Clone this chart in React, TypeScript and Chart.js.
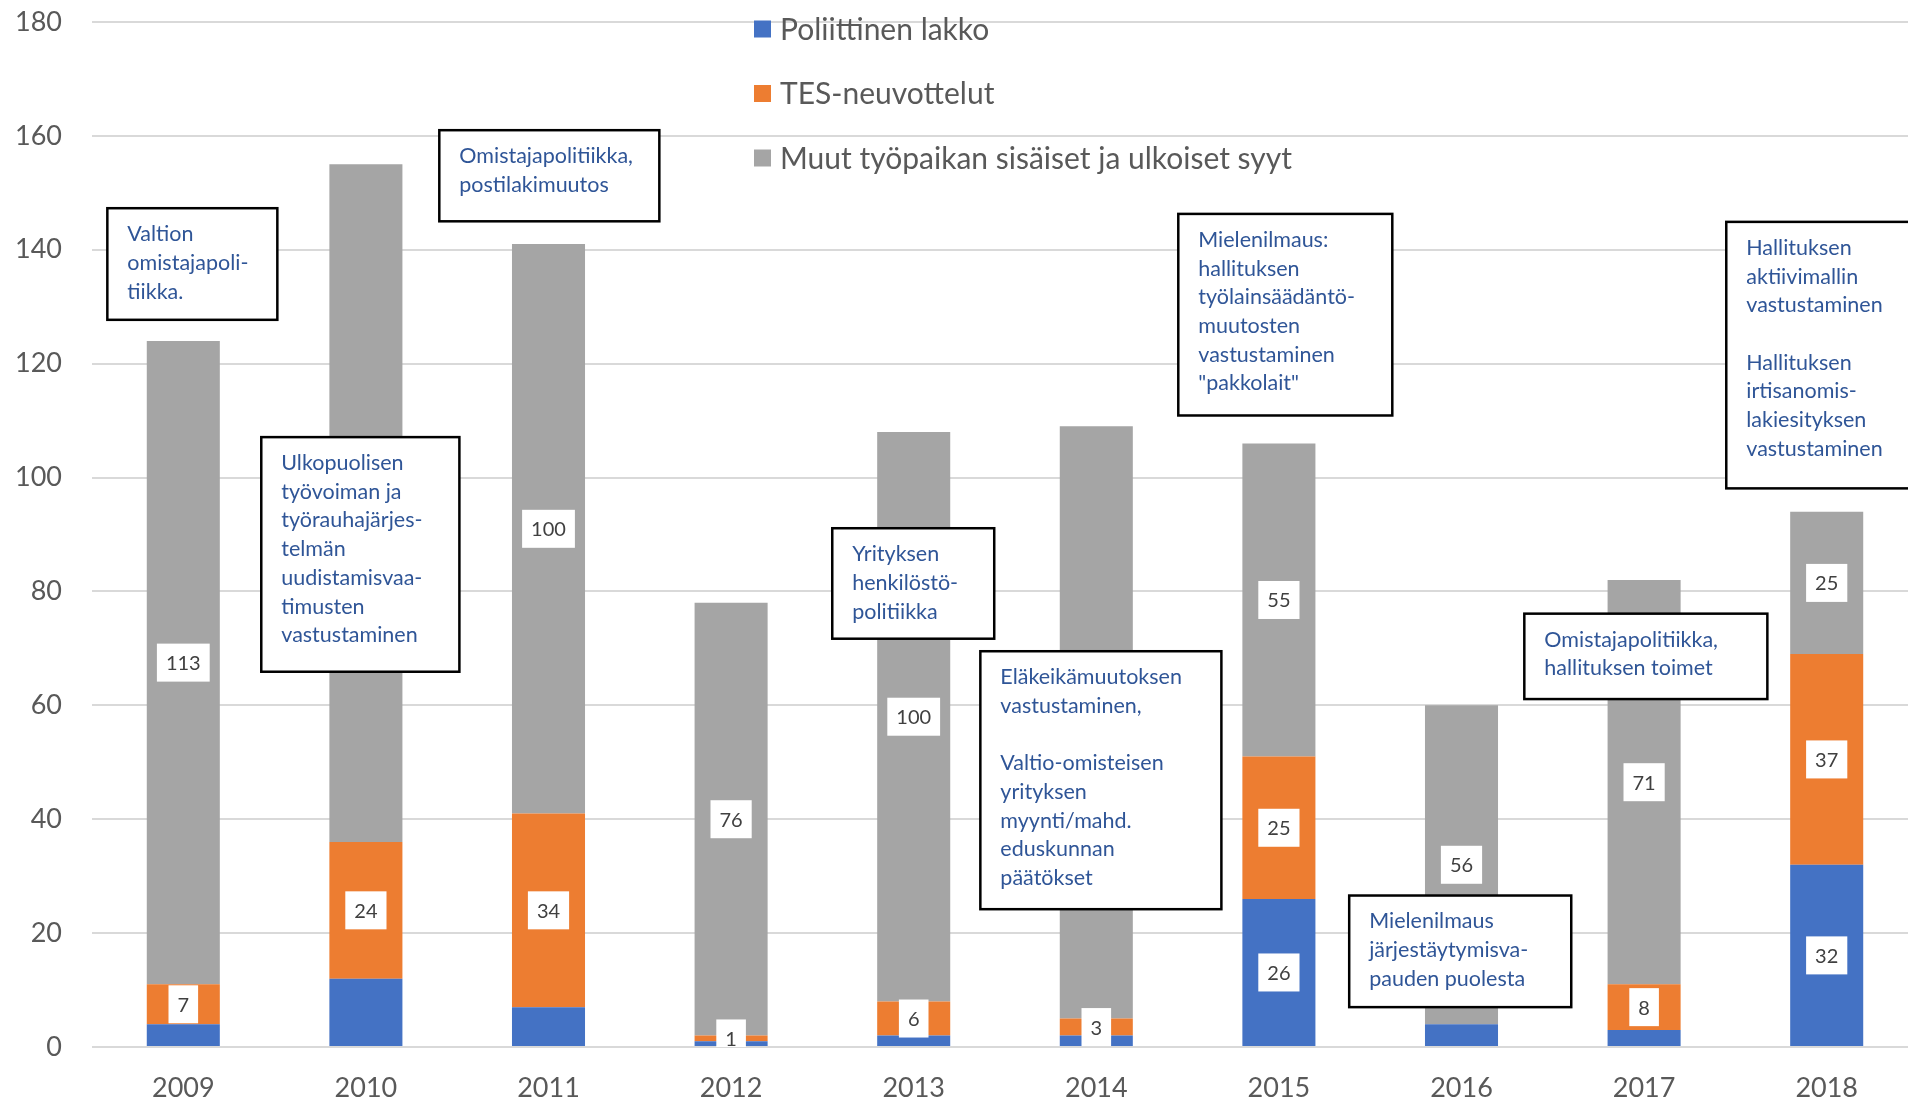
import React, { useEffect, useRef } from 'react';
import { Chart, registerables } from 'chart.js';

Chart.register(...registerables);

// ---- data ----
const years = ['2009', '2010', '2011', '2012', '2013', '2014', '2015', '2016', '2017', '2018'];
const seriesNames = ['Poliittinen lakko', 'TES-neuvottelut', 'Muut työpaikan sisäiset ja ulkoiset syyt'];
const poliittinenLakko = [4, 12, 7, 1, 2, 2, 26, 4, 3, 32];
const tesNeuvottelut = [7, 24, 34, 1, 6, 3, 25, 0, 8, 37];
const muutSyyt = [113, 119, 100, 76, 100, 104, 55, 56, 71, 25];
// which values carry a data label in the original
const labelPoliittinen = [false, false, false, false, false, false, true, false, false, true];
const labelTes = [true, true, true, true, true, true, true, false, true, true];
const labelMuut = [true, true, true, true, true, true, true, true, true, true];
const yMax = 180;
const yStep = 20;

// ---- annotations (text boxes), anchored in category / value units ----
const notes = [
  { lines: ['Valtion', 'omistajapoli-', 'tiikka.'], x1: -0.416, x2: 0.515, top: 147.3, bottom: 127.7 },
  { lines: ['Omistajapolitiikka,', 'postilakimuutos'], x1: 1.402, x2: 2.607, top: 161.0, bottom: 145.0 },
  {
    lines: ['Ulkopuolisen', 'työvoiman ja', 'työrauhajärjes-', 'telmän', 'uudistamisvaa-', 'timusten', 'vastustaminen'],
    x1: 0.427, x2: 1.512, top: 107.1, bottom: 65.9,
  },
  { lines: ['Yrityksen', 'henkilöstö-', 'politiikka'], x1: 3.554, x2: 4.441, top: 91.1, bottom: 71.7 },
  {
    lines: ['Eläkeikämuutoksen', 'vastustaminen,', '', 'Valtio-omisteisen', 'yrityksen', 'myynti/mahd.', 'eduskunnan', 'päätökset'],
    x1: 4.365, x2: 5.685, top: 69.5, bottom: 24.2,
  },
  {
    lines: ['Mielenilmaus:', 'hallituksen', 'työlainsäädäntö-', 'muutosten', 'vastustaminen', '"pakkolait"'],
    x1: 5.449, x2: 6.621, top: 146.3, bottom: 110.9,
  },
  { lines: ['Mielenilmaus', 'järjestäytymisva-', 'pauden puolesta'], x1: 6.385, x2: 7.601, top: 26.6, bottom: 7.0 },
  { lines: ['Omistajapolitiikka,', 'hallituksen toimet'], x1: 7.344, x2: 8.675, top: 76.1, bottom: 61.1 },
  {
    lines: ['Hallituksen', 'aktiivimallin', 'vastustaminen', '', 'Hallituksen', 'irtisanomis-', 'lakiesityksen', 'vastustaminen'],
    x1: 8.45, x2: 9.6, top: 144.9, bottom: 98.1,
  },
];

const COLORS = ['#4472C4', '#ED7D31', '#A5A5A5'];
const FONT = 'Lato, "Open Sans", sans-serif';
const CANVAS_W = 1918;
const CANVAS_H = 1110;

const overlayPlugin = {
  id: 'overlay',
  afterDatasetsDraw(chart: any) {
    const ctx = chart.ctx;
    const area = chart.chartArea;
    const labelFlags = [labelPoliittinen, labelTes, labelMuut];

    // data labels
    ctx.save();
    ctx.beginPath();
    ctx.rect(area.left, area.top, area.right - area.left, area.bottom - area.top);
    ctx.clip();
    ctx.font = `20px ${FONT}`;
    ctx.textAlign = 'center';
    ctx.textBaseline = 'middle';
    chart.data.datasets.forEach((ds: any, i: number) => {
      const meta = chart.getDatasetMeta(i);
      meta.data.forEach((el: any, j: number) => {
        const v = ds.data[j];
        if (!labelFlags[i][j] || !v) return;
        const cx = el.x;
        const cy = (el.y + el.base) / 2;
        const txt = String(v);
        const w = ctx.measureText(txt).width + 18;
        const h = 38;
        ctx.fillStyle = '#FFFFFF';
        ctx.fillRect(cx - w / 2, cy - h / 2, w, h);
        ctx.fillStyle = '#404040';
        ctx.fillText(txt, cx, cy + 1);
      });
    });
    ctx.restore();

    // annotation boxes
    const xs = chart.scales.x;
    const ys = chart.scales.y;
    ctx.save();
    notes.forEach((n) => {
      const l = xs.getPixelForValue(n.x1);
      const r = xs.getPixelForValue(n.x2);
      const t = ys.getPixelForValue(n.top);
      const b = ys.getPixelForValue(n.bottom);
      ctx.fillStyle = '#FFFFFF';
      ctx.fillRect(l, t, r - l, b - t);
      ctx.strokeStyle = '#000000';
      ctx.lineWidth = 2.5;
      ctx.strokeRect(l, t, r - l, b - t);
      ctx.fillStyle = '#2F5597';
      ctx.font = `21.5px ${FONT}`;
      ctx.textAlign = 'left';
      ctx.textBaseline = 'middle';
      n.lines.forEach((line, k) => {
        if (line) ctx.fillText(line, l + 20, t + 26 + k * 28.7);
      });
    });
    ctx.restore();

    // legend
    ctx.save();
    ctx.font = `30px ${FONT}`;
    ctx.textAlign = 'left';
    ctx.textBaseline = 'middle';
    seriesNames.forEach((name, i) => {
      const cy = 29 + i * 64.5;
      ctx.fillStyle = COLORS[i];
      ctx.fillRect(754, cy - 8.5, 17, 17);
      ctx.fillStyle = '#595959';
      ctx.fillText(name, 780, cy + 1);
    });
    ctx.restore();
  },
};

export default function App() {
  const ref = useRef<HTMLCanvasElement | null>(null);

  useEffect(() => {
    if (!ref.current) return;
    const chart = new Chart(ref.current, {
      type: 'bar',
      data: {
        labels: years,
        datasets: [
          { label: seriesNames[0], data: poliittinenLakko, backgroundColor: COLORS[0] },
          { label: seriesNames[1], data: tesNeuvottelut, backgroundColor: COLORS[1] },
          { label: seriesNames[2], data: muutSyyt, backgroundColor: COLORS[2] },
        ],
      },
      options: {
        responsive: false,
        animation: false,
        devicePixelRatio: 1,
        layout: { padding: { top: 22, left: 0, right: 0, bottom: 0 } },
        datasets: { bar: { categoryPercentage: 0.4, barPercentage: 1, borderWidth: 0 } },
        plugins: { legend: { display: false }, tooltip: { enabled: false } },
        scales: {
          x: {
            stacked: true,
            grid: { display: false, drawTicks: false },
            border: { display: false },
            ticks: { color: '#595959', font: { family: FONT, size: 27 }, padding: 25, maxRotation: 0 },
            afterFit: (s: any) => {
              s.height = 63;
            },
          },
          y: {
            stacked: true,
            min: 0,
            max: yMax,
            grid: {
              color: '#D9D9D9',
              lineWidth: 2,
              drawTicks: true,
              tickLength: 30,
              tickColor: 'rgba(0,0,0,0)',
            },
            border: { display: false },
            ticks: { stepSize: yStep, color: '#595959', font: { family: FONT, size: 27 }, padding: 0 },
            afterFit: (s: any) => {
              s.width = 92;
            },
          },
        },
      },
      plugins: [overlayPlugin],
    });
    return () => chart.destroy();
  }, []);

  return (
    <div
      style={{
        position: 'fixed',
        left: 0,
        top: 0,
        width: 1908,
        height: 1103,
        overflow: 'hidden',
        background: '#FFFFFF',
      }}
    >
      <canvas ref={ref} width={CANVAS_W} height={CANVAS_H} style={{ display: 'block' }} />
    </div>
  );
}
